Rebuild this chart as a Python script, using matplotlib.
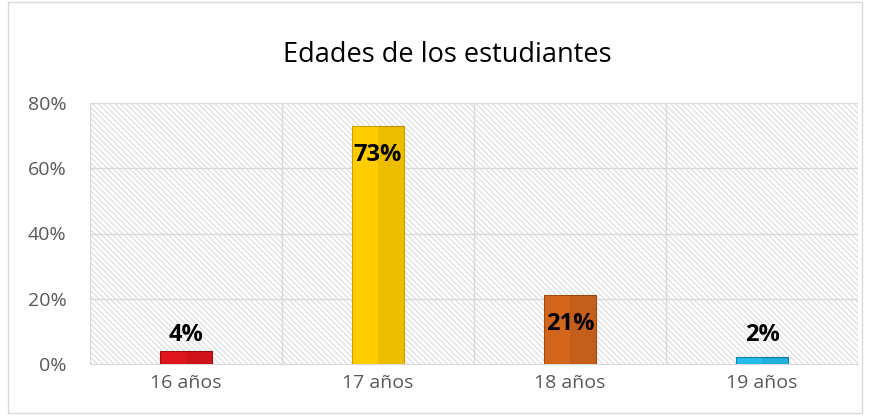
import matplotlib.pyplot as plt
import matplotlib.patches as mpatches
import numpy as np

categories = ["16 años", "17 años", "18 años", "19 años"]
values = [0.04, 0.73, 0.21, 0.02]
labels = ["4%", "73%", "21%", "2%"]
colors = ["#E0141C", "#FFCC00", "#D4661C", "#22BFEC"]
edges = ["#9E0E12", "#C9A000", "#A24A10", "#1580A8"]
yticks = [0, 0.2, 0.4, 0.6, 0.8]

plt.rcParams['font.family'] = ['Open Sans', 'DejaVu Sans']
plt.rcParams['hatch.color'] = '#dedede'
plt.rcParams['hatch.linewidth'] = 0.9

fig = plt.figure(figsize=(8.72, 4.17), dpi=100)
ax = fig.add_axes([90/872, 1-364/417, 768/872, 261/417])

# outer chart border
fig.patches.append(mpatches.Rectangle((8/872, 0.01), 854/872, 0.985, transform=fig.transFigure,
                                      fill=False, edgecolor='#d9d9d9', linewidth=1))

x = np.arange(len(categories))
ax.set_xlim(-0.5, len(categories) - 0.5)
ax.set_ylim(0, 0.8)

# hatched background
ax.add_patch(mpatches.Rectangle((-0.5, 0), len(categories), 0.8, facecolor='white',
                                hatch='\\\\\\\\\\\\', edgecolor='#dedede', linewidth=0, zorder=0))

for yv in yticks[1:]:
    ax.axhline(yv, color='#d9d9d9', linewidth=1, zorder=1)
for xv in np.arange(-0.5, len(categories), 1.0):
    ax.axvline(xv, color='#d9d9d9', linewidth=1, zorder=1)

bars = ax.bar(x, values, width=0.27, color=colors, edgecolor=edges, linewidth=0.8, zorder=3)

# simple bevel shading on each bar
for b in bars:
    bx, bw, bh = b.get_x(), b.get_width(), b.get_height()
    ax.add_patch(mpatches.Rectangle((bx + bw * 0.5, 0), bw * 0.5, bh, facecolor='black',
                                    alpha=0.07, linewidth=0, zorder=4))

# px -> data units
upp = 0.8 / 261
for i, (v, lab) in enumerate(zip(values, labels)):
    if v > 0.1:
        ax.text(x[i], v - 29 * upp, lab, ha='center', va='center',
                fontsize=17, fontweight='bold', color='black', zorder=5)
    else:
        ax.text(x[i], max(v, 0.04) + 4 * upp, lab, ha='center', va='bottom',
                fontsize=17, fontweight='bold', color='black', zorder=5)

ax.set_yticks(yticks)
ax.set_yticklabels([f"{int(t*100)}%" for t in yticks])
ax.set_xticks(x)
ax.set_xticklabels(categories)
ax.tick_params(axis='both', length=0, labelsize=14, colors='#595959')
ax.tick_params(axis='y', pad=17)
ax.tick_params(axis='x', pad=7)
for s in ['top', 'right', 'left']:
    ax.spines[s].set_visible(False)
ax.spines['bottom'].set_color('#d9d9d9')

fig.text(447/872, 1-55/417, "Edades de los estudiantes", ha='center', va='center',
         fontsize=19.5, color='black')

fig.savefig("out.png", dpi=100)
